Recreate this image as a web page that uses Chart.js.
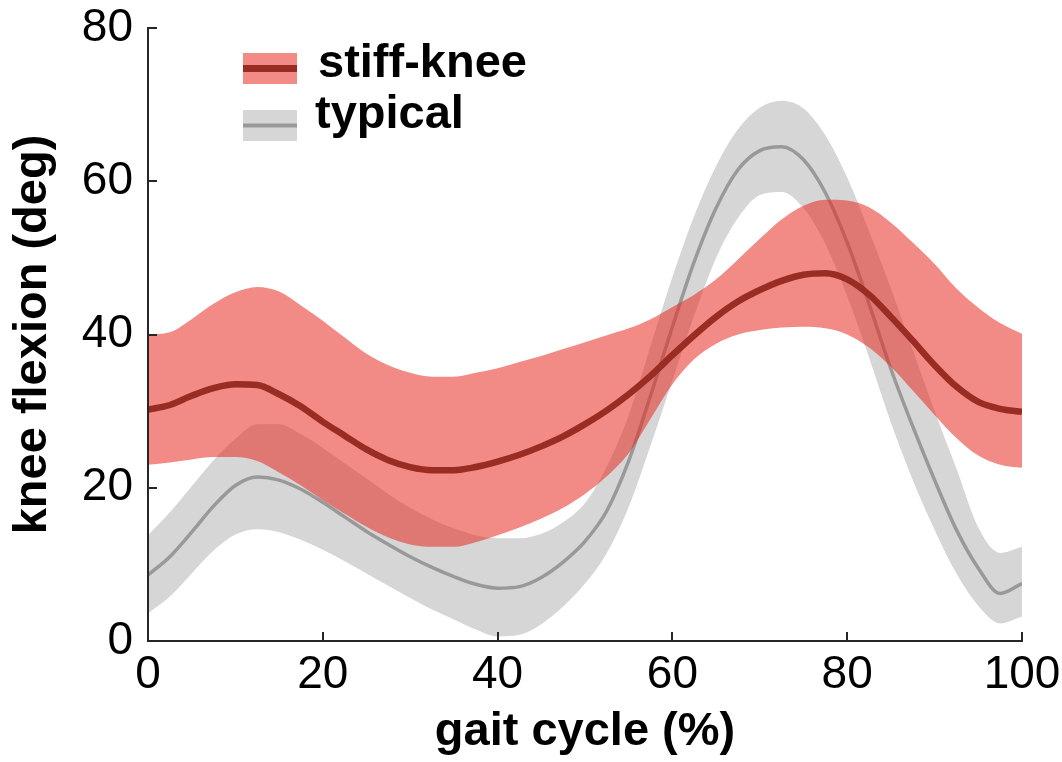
<!DOCTYPE html>
<html>
<head>
<meta charset="utf-8">
<script src="https://cdn.jsdelivr.net/npm/chart.js@4.4.1/dist/chart.umd.min.js"></script>
<style>
  html, body { margin: 0; padding: 0; background: #fff; }
  #wrap { width: 1062px; height: 762px; }
</style>
</head>
<body>
<div id="wrap"><canvas id="kneeChart" width="1062" height="762"></canvas></div>
<script>
// gait cycle samples (%)
const gaitPct = [0, 2.5, 5, 7.5, 10, 12.5, 15, 17.5, 20, 22.5, 25, 27.5, 30, 32.5, 35, 37.5, 40, 42.5, 45, 47.5,
  50, 52.5, 55, 57.5, 60, 62.5, 65, 67.5, 70, 72.5, 75, 77.5, 80, 82.5, 85, 87.5, 90, 92.5, 95, 97.5, 100];

// stiff-knee group: mean and band edges (deg)
const stiffMean = [30.2, 30.8, 32.0, 33.0, 33.5, 33.4, 32.2, 30.6, 28.6, 26.8, 25.0, 23.6, 22.7, 22.3, 22.3, 22.7, 23.4, 24.3, 25.4, 26.7,
  28.3, 30.1, 32.2, 34.6, 37.3, 39.9, 42.3, 44.3, 45.8, 47.0, 47.8, 48.0, 47.2, 45.2, 42.3, 39.2, 36.0, 33.2, 31.2, 30.3, 29.9];
const stiffUpper = [40.0, 40.3, 42.0, 44.0, 45.5, 46.2, 45.6, 43.8, 41.8, 39.6, 37.5, 36.0, 35.0, 34.5, 34.5, 35.0, 35.6, 36.4, 37.2, 38.1,
  39.0, 39.9, 40.8, 42.0, 43.6, 45.2, 47.2, 49.8, 52.5, 55.0, 56.8, 57.6, 57.5, 56.6, 54.6, 52.0, 49.2, 46.0, 43.5, 41.5, 40.1];
const stiffLower = [23.0, 23.3, 23.7, 24.0, 24.0, 23.5, 22.0, 20.3, 18.4, 16.6, 14.9, 13.5, 12.6, 12.3, 12.3, 12.9, 13.8, 14.8, 16.0, 17.4,
  19.2, 21.5, 24.5, 29.0, 33.5, 36.8, 38.8, 40.0, 40.6, 40.9, 41.0, 40.8, 40.0, 38.3, 35.8, 32.7, 29.5, 26.5, 24.2, 23.0, 22.6];

// typical group: mean and band edges (deg)
const typicalMean = [8.6, 11.0, 14.2, 17.6, 20.3, 21.4, 21.0, 19.8, 18.1, 16.2, 14.3, 12.6, 11.0, 9.6, 8.4, 7.4, 6.9, 7.1, 8.3, 10.3,
  13.0, 17.0, 23.5, 32.0, 41.0, 49.5, 56.5, 61.5, 64.0, 64.5, 62.8, 58.5, 52.0, 44.0, 35.5, 28.0, 21.0, 14.5, 9.5, 6.2, 7.5];
const typicalUpper = [13.8, 16.8, 20.2, 23.6, 26.4, 28.3, 28.3, 27.0, 25.2, 23.2, 21.2, 19.2, 17.4, 15.9, 14.7, 13.8, 13.4, 13.4, 14.0, 15.5,
  18.0, 22.8, 29.5, 38.5, 47.5, 55.5, 62.0, 66.8, 69.6, 70.5, 69.5, 66.0, 60.5, 53.5, 46.0, 38.0, 30.0, 22.5, 14.8, 11.5, 12.3];
const typicalLower = [3.6, 5.8, 8.8, 11.8, 13.9, 14.6, 14.2, 13.2, 11.9, 10.4, 8.8, 7.2, 5.6, 4.1, 2.8, 1.5, 0.6, 0.8, 2.2, 4.5,
  7.5, 11.5, 17.5, 25.5, 34.0, 42.5, 50.0, 55.2, 58.2, 58.6, 56.5, 51.8, 45.0, 37.0, 28.5, 21.0, 14.5, 8.8, 4.6, 2.3, 3.2];

const xTicks = [0, 20, 40, 60, 80, 100];
const yTicks = [0, 20, 40, 60, 80];

const axisColor = "#262626";
const stiffBand = "rgba(232, 42, 33, 0.55)";
const stiffLine = "#992c23";
const typicalBand = "#d6d6d6";
const typicalLine = "#999999";
const fontFamily = "Arial, 'Liberation Sans', Helvetica, sans-serif";

const toPoints = (values) => values.map((v, i) => ({ x: gaitPct[i], y: v }));

// Legend entries: band swatch with the mean line through it
const legendItems = [
  { label: "stiff-knee", band: stiffBand, line: stiffLine, lineWidth: 7 },
  { label: "typical", band: typicalBand, line: typicalLine, lineWidth: 4 },
];

const bandLegend = {
  id: "bandLegend",
  afterDraw(chart) {
    const { ctx } = chart;
    ctx.save();
    legendItems.forEach((item, i) => {
      const top = 53 + i * 57;
      ctx.fillStyle = "#fff";
      ctx.fillRect(243, top, 54, 31);
      ctx.fillStyle = item.band;
      ctx.fillRect(243, top, 54, 31);
      ctx.fillStyle = item.line;
      ctx.fillRect(243, top + 15.5 - item.lineWidth / 2, 54, item.lineWidth);
      ctx.fillStyle = "#000";
      ctx.font = `bold 47px ${fontFamily}`;
      ctx.textBaseline = "alphabetic";
      ctx.textAlign = "left";
      ctx.fillText(item.label, i === 0 ? 318 : 315, i === 0 ? 77 : 128);
    });
    ctx.restore();
  },
};

// MATLAB style ticks pointing into the plot
const inwardTicks = {
  id: "inwardTicks",
  afterDraw(chart) {
    const { ctx, chartArea, scales } = chart;
    ctx.save();
    ctx.strokeStyle = axisColor;
    ctx.lineWidth = 2;
    ctx.beginPath();
    xTicks.forEach((t) => {
      const px = Math.round(scales.x.getPixelForValue(t));
      ctx.moveTo(px, chartArea.bottom);
      ctx.lineTo(px, chartArea.bottom - 9);
    });
    yTicks.forEach((t) => {
      const py = Math.round(scales.y.getPixelForValue(t));
      ctx.moveTo(chartArea.left, py);
      ctx.lineTo(chartArea.left + 9, py);
    });
    ctx.stroke();
    // redraw axis lines over the bands
    ctx.beginPath();
    ctx.moveTo(chartArea.left, chartArea.top);
    ctx.lineTo(chartArea.left, chartArea.bottom);
    ctx.lineTo(chartArea.right, chartArea.bottom);
    ctx.stroke();
    ctx.restore();
  },
};

const lineDefaults = {
  pointRadius: 0,
  cubicInterpolationMode: "monotone",
};

new Chart(document.getElementById("kneeChart"), {
  type: "line",
  data: {
    datasets: [
      { ...lineDefaults, label: "stiff-knee", data: toPoints(stiffMean), borderColor: stiffLine, borderWidth: 6.5, fill: false, order: 1 },
      { ...lineDefaults, label: "stiff upper", data: toPoints(stiffUpper), borderWidth: 0, borderColor: "transparent", backgroundColor: stiffBand, fill: "+1", order: 2 },
      { ...lineDefaults, label: "stiff lower", data: toPoints(stiffLower), borderWidth: 0, borderColor: "transparent", fill: false, order: 2 },
      { ...lineDefaults, label: "typical", data: toPoints(typicalMean), borderColor: typicalLine, borderWidth: 3.5, fill: false, order: 3 },
      { ...lineDefaults, label: "typical upper", data: toPoints(typicalUpper), borderWidth: 0, borderColor: "transparent", backgroundColor: typicalBand, fill: "+1", order: 4 },
      { ...lineDefaults, label: "typical lower", data: toPoints(typicalLower), borderWidth: 0, borderColor: "transparent", fill: false, order: 4 },
    ],
  },
  options: {
    responsive: false,
    animation: false,
    layout: { padding: { top: 28, right: 40, left: 0, bottom: 0 } },
    plugins: {
      legend: { display: false },
      tooltip: { enabled: false },
    },
    scales: {
      x: {
        type: "linear",
        min: 0,
        max: 100,
        afterBuildTicks: (scale) => { scale.ticks = xTicks.map((v) => ({ value: v })); },
        afterFit: (scale) => {
          scale.height = 121;
          scale.paddingLeft = 0;
          scale.paddingRight = 0;
        },
        grid: { display: false, drawTicks: false },
        border: { display: true, color: axisColor, width: 2 },
        ticks: { color: "#000", font: { family: fontFamily, size: 46 }, padding: 7, maxRotation: 0 },
        title: {
          display: true,
          text: "gait cycle (%)",
          color: "#000",
          font: { family: fontFamily, size: 47, weight: "bold" },
          padding: { top: 0, bottom: 2 },
        },
      },
      y: {
        min: 0,
        max: 80,
        afterBuildTicks: (scale) => { scale.ticks = yTicks.map((v) => ({ value: v })); },
        afterFit: (scale) => {
          scale.width = 148;
          scale.paddingTop = 0;
          scale.paddingBottom = 0;
        },
        grid: { display: false, drawTicks: false },
        border: { display: true, color: axisColor, width: 2 },
        ticks: { color: "#000", font: { family: fontFamily, size: 46 }, padding: 15 },
        title: {
          display: true,
          text: "knee flexion (deg)",
          color: "#000",
          font: { family: fontFamily, size: 47, weight: "bold" },
          padding: { top: 5, bottom: 0 },
        },
      },
    },
  },
  plugins: [inwardTicks, bandLegend],
});
</script>
</body>
</html>
